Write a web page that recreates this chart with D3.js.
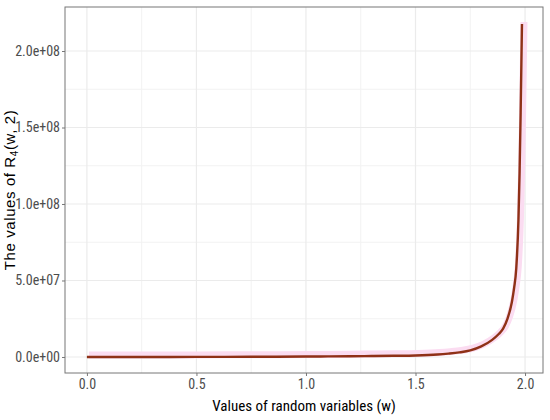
<!DOCTYPE html>
<html>
<head>
<meta charset="utf-8">
<script src="https://cdn.jsdelivr.net/npm/d3@7"></script>
<style>
  body { margin: 0; background: #fff; }
  svg { display: block; }
</style>
</head>
<body>
<svg id="chart" width="550" height="420"></svg>
<script>
// ---- data ----
const wValues = [0, 0.25, 0.5, 0.75, 1.0, 1.1, 1.2, 1.3, 1.4, 1.5, 1.6, 1.65, 1.7, 1.75, 1.8, 1.85, 1.88, 1.9, 1.92, 1.94, 1.95, 1.96, 1.97, 1.975, 1.98, 1.986];
const rValues = [0, 1e4, 5e4, 1.5e5, 3e5, 4e5, 5e5, 6.5e5, 8e5, 1.0e6, 1.6e6, 2.2e6, 3.0e6, 4.3e6, 6.9e6, 1.12e7, 1.5e7, 1.85e7, 2.5e7, 3.6e7, 4.5e7, 5.8e7, 9.0e7, 1.2e8, 1.6e8, 2.176e8];
const xTicks = [0, 0.5, 1.0, 1.5, 2.0];
const xTickLabels = ["0.0", "0.5", "1.0", "1.5", "2.0"];
const yTicks = [0, 5e7, 1e8, 1.5e8, 2e8];
const yTickLabels = ["0.0e+00", "5.0e+07", "1.0e+08", "1.5e+08", "2.0e+08"];
const xMinor = [0.25, 0.75, 1.25, 1.75];
const yMinor = [2.5e7, 7.5e7, 1.25e8, 1.75e8];

const data = wValues.map((w, i) => ({ w, r: rValues[i] }));

const svg = d3.select("#chart");
const panel = { left: 65, top: 7, right: 543, bottom: 373 };

const x = d3.scaleLinear().domain([-0.1, 2.082]).range([panel.left, panel.right]);
const y = d3.scaleLinear().domain([-1.046e7, 2.2876e8]).range([panel.bottom, panel.top]);

const g = svg.append("g");

// grid
g.selectAll(".xminor").data(xMinor).join("line")
  .attr("x1", d => x(d)).attr("x2", d => x(d))
  .attr("y1", panel.top).attr("y2", panel.bottom)
  .attr("stroke", "#f2f2f2").attr("stroke-width", 1);
g.selectAll(".yminor").data(yMinor).join("line")
  .attr("y1", d => y(d)).attr("y2", d => y(d))
  .attr("x1", panel.left).attr("x2", panel.right)
  .attr("stroke", "#f2f2f2").attr("stroke-width", 1);
g.selectAll(".xmajor").data(xTicks).join("line")
  .attr("x1", d => x(d)).attr("x2", d => x(d))
  .attr("y1", panel.top).attr("y2", panel.bottom)
  .attr("stroke", "#ebebeb").attr("stroke-width", 1.2);
g.selectAll(".ymajor").data(yTicks).join("line")
  .attr("y1", d => y(d)).attr("y2", d => y(d))
  .attr("x1", panel.left).attr("x2", panel.right)
  .attr("stroke", "#ebebeb").attr("stroke-width", 1.2);

// lines
const line = d3.line().x(d => x(d.w)).y(d => y(d.r)).curve(d3.curveMonotoneX);

g.append("path").datum(data)
  .attr("d", line)
  .attr("fill", "none")
  .attr("stroke", "#fbdcf1")
  .attr("stroke-width", 7)
  .attr("stroke-linejoin", "round")
  .attr("transform", "translate(2,-2)");

g.append("path").datum(data)
  .attr("d", line)
  .attr("fill", "none")
  .attr("stroke", "#8f3117")
  .attr("stroke-width", 2.4)
  .attr("stroke-linejoin", "round");

// border
g.append("rect")
  .attr("x", panel.left).attr("y", panel.top)
  .attr("width", panel.right - panel.left).attr("height", panel.bottom - panel.top)
  .attr("fill", "none").attr("stroke", "#777").attr("stroke-width", 1);

// axes
const font = "'Liberation Sans Narrow', 'Roboto Condensed', 'Liberation Sans', Arial, sans-serif";
const xAxis = d3.axisBottom(x).tickValues(xTicks).tickSize(3).tickPadding(3)
  .tickFormat((d, i) => xTickLabels[i]);
const yAxis = d3.axisLeft(y).tickValues(yTicks).tickSize(3).tickPadding(2)
  .tickFormat((d, i) => yTickLabels[i]);

const gx = svg.append("g").attr("transform", `translate(0,${panel.bottom})`).call(xAxis);
const gy = svg.append("g").attr("transform", `translate(${panel.left},0)`).call(yAxis);
[gx, gy].forEach(a => {
  a.select(".domain").remove();
  a.selectAll(".tick line").attr("stroke", "#777");
  a.selectAll(".tick text").attr("fill", "#4d4d4d")
    .style("font-family", font).style("font-size", "14px");
});

// axis titles
svg.append("text")
  .attr("x", (panel.left + panel.right) / 2).attr("y", 411)
  .attr("text-anchor", "middle")
  .style("font-family", font).style("font-size", "15px").attr("fill", "#000")
  .text("Values of random variables (w)");

const yt = svg.append("text")
  .attr("transform", `translate(15,${(panel.top + panel.bottom) / 2}) rotate(-90)`)
  .attr("text-anchor", "middle")
  .style("font-family", "'Liberation Sans', Arial, sans-serif").style("font-size", "15px")
  .style("letter-spacing", "0.6px")
  .attr("fill", "#000");
yt.append("tspan").text("The values of  R");
yt.append("tspan").attr("dy", 3).style("font-size", "10px").text("4");
yt.append("tspan").attr("dy", -3).text("(w, 2)");
</script>
</body>
</html>
